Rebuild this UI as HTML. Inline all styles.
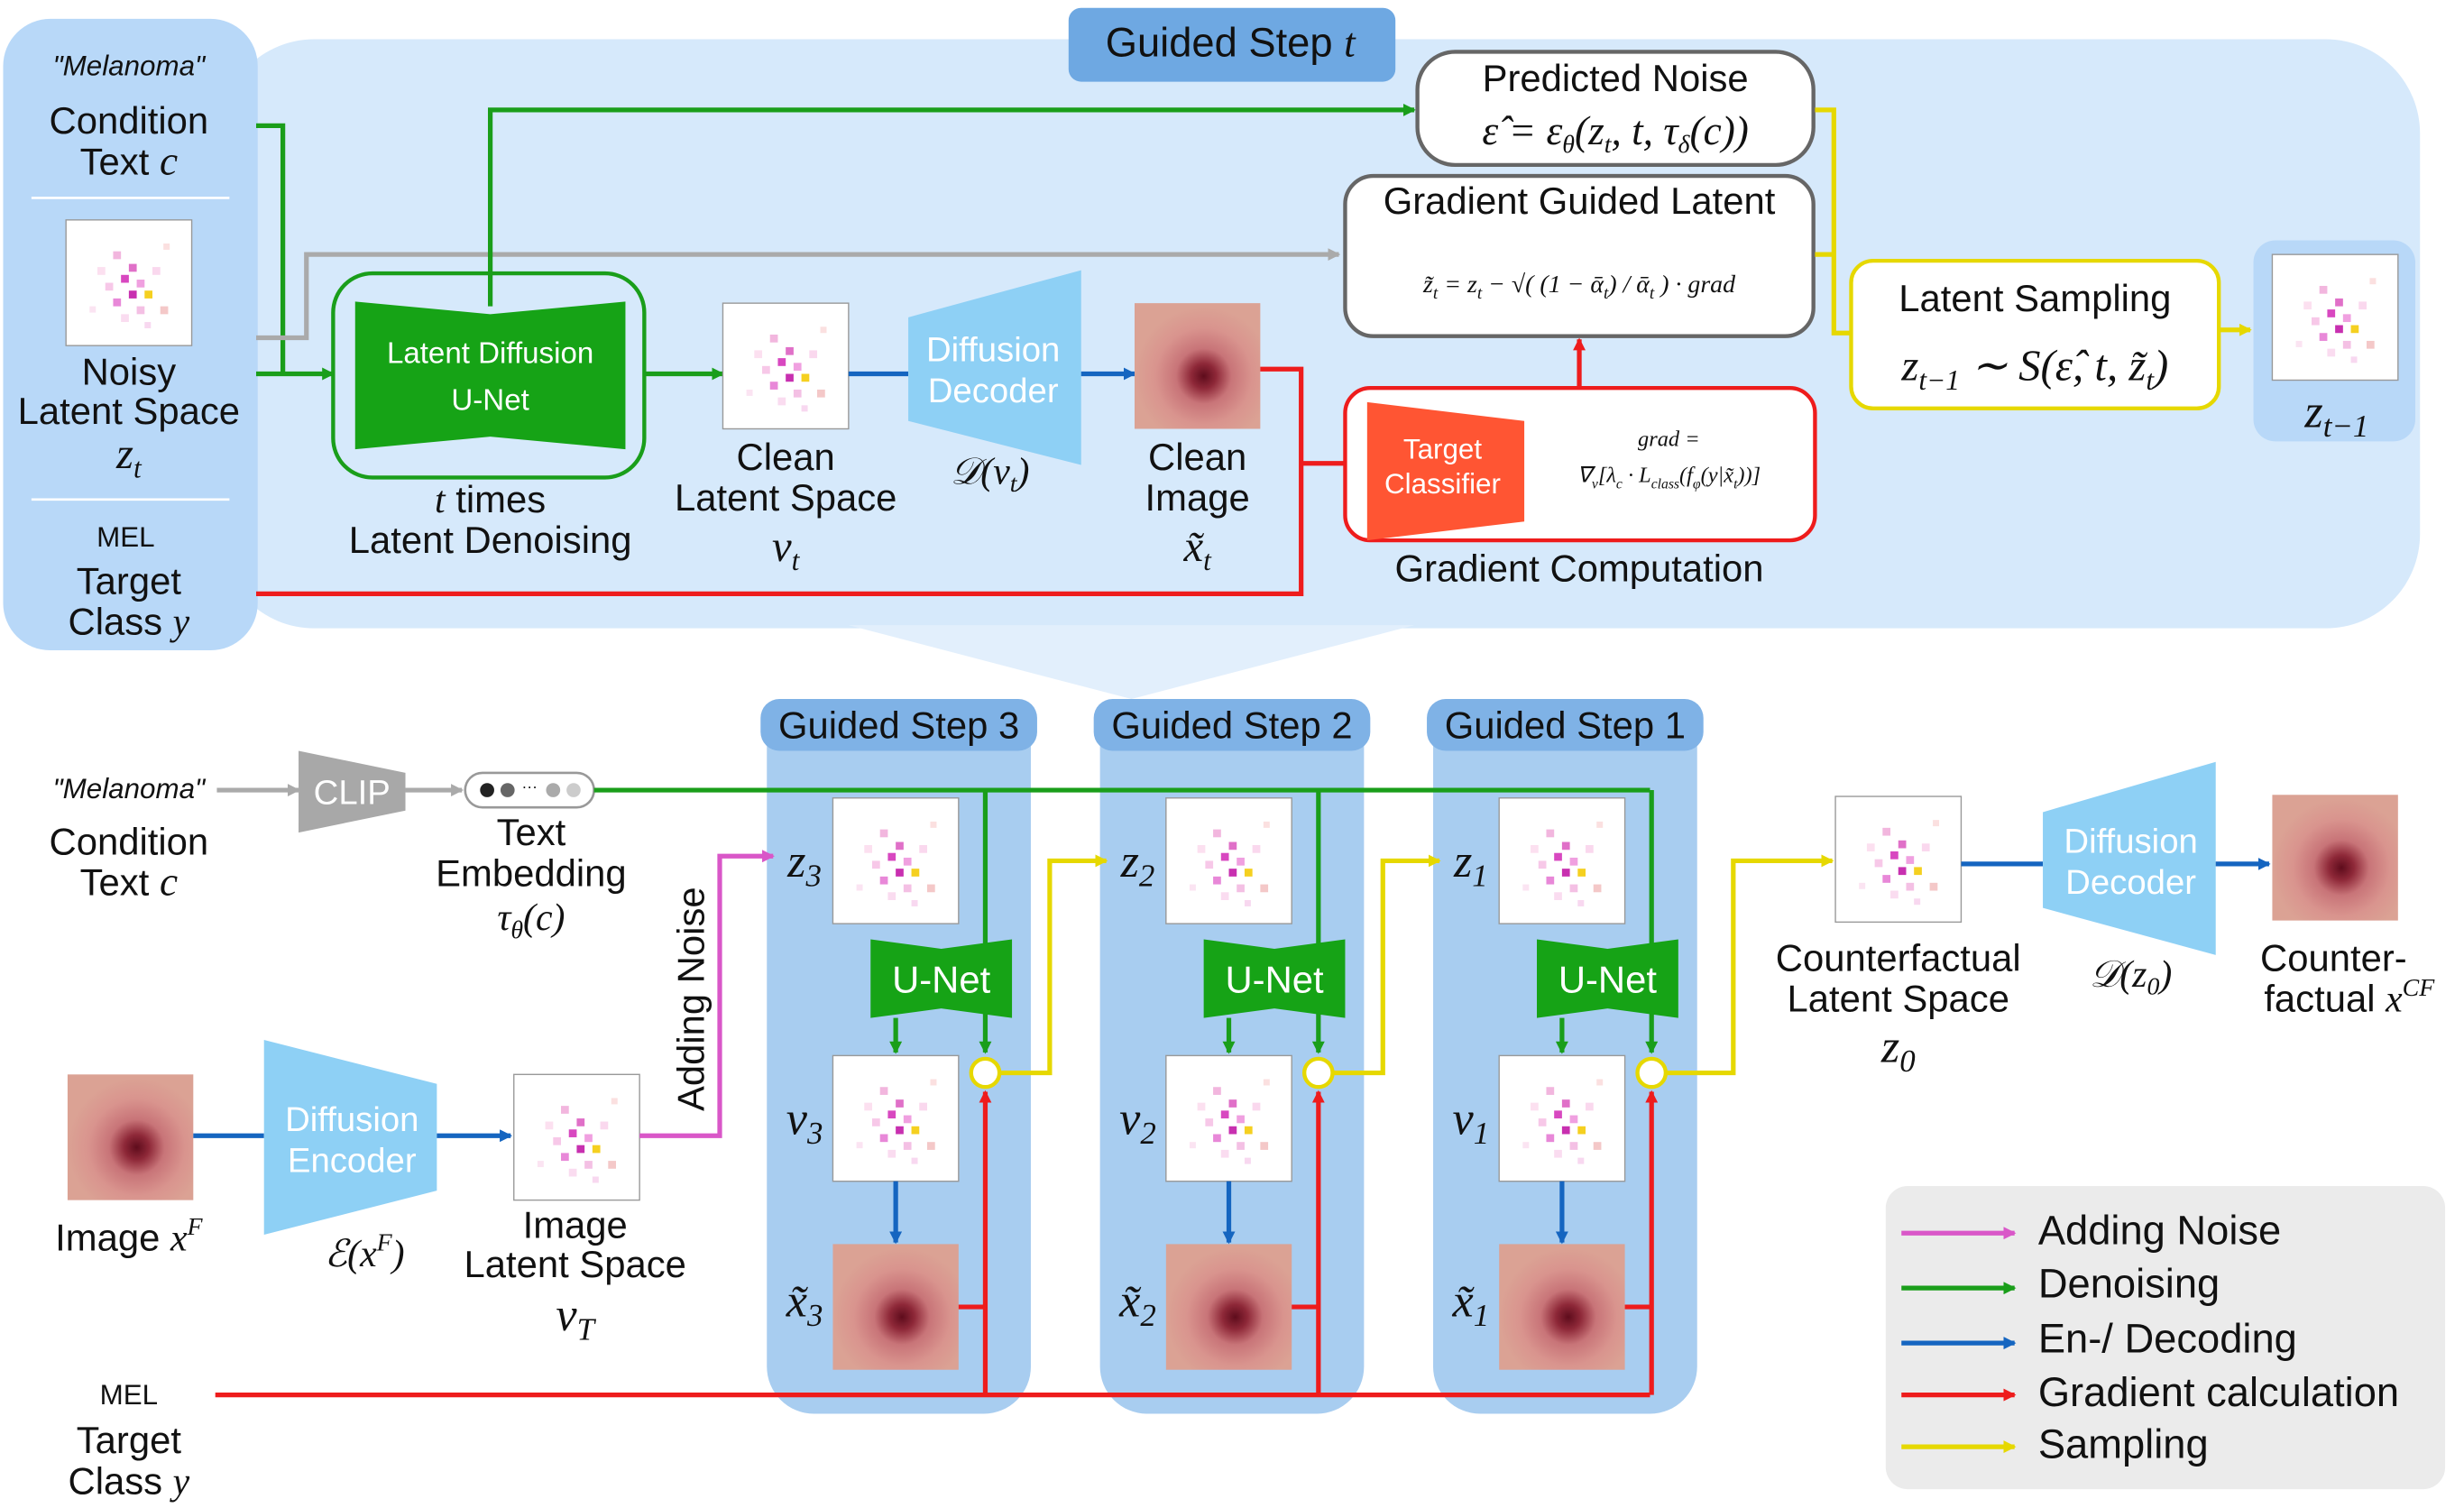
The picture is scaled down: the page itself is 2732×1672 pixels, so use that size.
<!DOCTYPE html>
<html><head><meta charset="utf-8"><style>
html,body{margin:0;padding:0;background:#fff}
svg{display:block}
text{font-family:"Liberation Sans",sans-serif;fill:#111;text-anchor:middle}
.m{font-family:"Liberation Serif",serif;font-style:italic}
</style></head><body>
<svg width="2732" height="1672" viewBox="0 0 1568 960" preserveAspectRatio="none" xmlns="http://www.w3.org/2000/svg">
<defs>
<marker id="ag" markerWidth="8" markerHeight="8" refX="7" refY="4" orient="auto" markerUnits="userSpaceOnUse"><path d="M0,0 L8,4 L0,8z" fill="#1a9e1a"/></marker>
<marker id="ab" markerWidth="8" markerHeight="8" refX="7" refY="4" orient="auto" markerUnits="userSpaceOnUse"><path d="M0,0 L8,4 L0,8z" fill="#1565c0"/></marker>
<marker id="ar" markerWidth="8" markerHeight="8" refX="7" refY="4" orient="auto" markerUnits="userSpaceOnUse"><path d="M0,0 L8,4 L0,8z" fill="#ee1c1c"/></marker>
<marker id="ay" markerWidth="8" markerHeight="8" refX="7" refY="4" orient="auto" markerUnits="userSpaceOnUse"><path d="M0,0 L8,4 L0,8z" fill="#e6d800"/></marker>
<marker id="am" markerWidth="8" markerHeight="8" refX="7" refY="4" orient="auto" markerUnits="userSpaceOnUse"><path d="M0,0 L8,4 L0,8z" fill="#d957c8"/></marker>
<marker id="aa" markerWidth="8" markerHeight="8" refX="7" refY="4" orient="auto" markerUnits="userSpaceOnUse"><path d="M0,0 L8,4 L0,8z" fill="#aaa"/></marker>
<radialGradient id="les" cx="0.55" cy="0.58" r="0.55">
<stop offset="0" stop-color="#5e0c1c"/><stop offset="0.18" stop-color="#8e2838"/><stop offset="0.4" stop-color="#c87478"/><stop offset="0.7" stop-color="#d9948e"/><stop offset="1" stop-color="#dba294"/></radialGradient>
<g id="noise"><rect width="80" height="80" fill="#fff" stroke="#999" stroke-width="0.8"/>
<rect x="30" y="20" width="5" height="5" fill="#f2b6de"/><rect x="40" y="28" width="5" height="5" fill="#e070c8"/><rect x="35" y="35" width="5" height="5" fill="#d848c0"/><rect x="45" y="38" width="5" height="5" fill="#f0a0e0"/><rect x="25" y="40" width="5" height="5" fill="#f7c8e8"/><rect x="40" y="45" width="5" height="5" fill="#c830b0"/><rect x="50" y="45" width="5" height="5" fill="#f5d020"/><rect x="30" y="50" width="5" height="5" fill="#e888d8"/><rect x="45" y="55" width="5" height="5" fill="#f4c0e4"/><rect x="55" y="30" width="5" height="5" fill="#fad8ee"/><rect x="20" y="30" width="5" height="5" fill="#fce0f0"/><rect x="60" y="55" width="5" height="5" fill="#f4c8c8"/><rect x="35" y="60" width="5" height="5" fill="#fadcf0"/><rect x="15" y="55" width="4" height="4" fill="#fbe4f2"/><rect x="62" y="15" width="4" height="4" fill="#fbe0e0"/><rect x="50" y="65" width="4" height="4" fill="#f8d8f0"/></g>
<g id="lesion"><rect width="80" height="80" fill="url(#les)"/></g>
</defs>

<rect x="140" y="25" width="1400" height="375" rx="60" fill="#d6e9fb"/>
<polygon points="540,398 900,398 720,445" fill="#e2effc"/>
<rect x="2" y="12" width="162" height="402" rx="30" fill="#b8d8f8"/>
<line x1="20" y1="126" x2="146" y2="126" stroke="#fff" stroke-width="1.5"/>
<line x1="20" y1="318" x2="146" y2="318" stroke="#fff" stroke-width="1.5"/>
<text x="82" y="48" font-size="18" font-style="italic">"Melanoma"</text>
<text x="82" y="85" font-size="24">Condition</text>
<text x="82" y="111" font-size="24">Text <tspan class="m" font-size="26">c</tspan></text>
<use href="#noise" x="42" y="140"/>
<text x="82" y="245" font-size="24">Noisy</text>
<text x="82" y="270" font-size="24">Latent Space</text>
<text x="82" y="298" class="m" font-size="28">z<tspan font-size="18" dy="6">t</tspan></text>
<text x="80" y="348" font-size="18">MEL</text>
<text x="82" y="378" font-size="24">Target</text>
<text x="82" y="404" font-size="24">Class <tspan class="m">y</tspan></text>

<rect x="680" y="5" width="208" height="47" rx="8" fill="#6ea8e2"/>
<text x="783" y="36" font-size="26">Guided Step <tspan class="m">t</tspan></text>

<polyline points="163,80 180,80 180,238" fill="none" stroke="#1a9e1a" stroke-width="3"/>
<line x1="163" y1="238" x2="212" y2="238" stroke="#1a9e1a" stroke-width="3" marker-end="url(#ag)"/>
<polyline points="163,215 195,215 195,162 852,162" fill="none" stroke="#aaa" stroke-width="3" marker-end="url(#aa)"/>
<polyline points="312,195 312,70 900,70" fill="none" stroke="#1a9e1a" stroke-width="3" marker-end="url(#ag)"/>

<rect x="212" y="174" width="198" height="130" rx="25" fill="none" stroke="#1a9e1a" stroke-width="2.5"/>
<polygon points="226,192 312,200 398,192 398,286 312,278 226,286" fill="#16a316"/>
<text x="312" y="231" font-size="19" style="fill:#fff">Latent Diffusion</text>
<text x="312" y="261" font-size="19" style="fill:#fff">U-Net</text>
<text x="312" y="326" font-size="24"><tspan class="m">t</tspan> times</text>
<text x="312" y="352" font-size="24">Latent Denoising</text>

<line x1="410" y1="238" x2="460" y2="238" stroke="#1a9e1a" stroke-width="3" marker-end="url(#ag)"/>
<use href="#noise" x="460" y="193"/>
<text x="500" y="299" font-size="24">Clean</text>
<text x="500" y="325" font-size="24">Latent Space</text>
<text x="500" y="357" class="m" font-size="28">v<tspan font-size="18" dy="6">t</tspan></text>

<line x1="540" y1="238" x2="578" y2="238" stroke="#1565c0" stroke-width="3"/>
<polygon points="578,202 688,172 688,296 578,268" fill="#8ed0f5"/>
<text x="632" y="230" font-size="22" style="fill:#fff">Diffusion</text>
<text x="632" y="256" font-size="22" style="fill:#fff">Decoder</text>
<text x="630" y="308" class="m" font-size="24">𝒟(v<tspan font-size="16" dy="5">t</tspan><tspan dy="-5">)</tspan></text>
<line x1="688" y1="238" x2="722" y2="238" stroke="#1565c0" stroke-width="3" marker-end="url(#ab)"/>
<use href="#lesion" x="722" y="193"/>
<text x="762" y="299" font-size="24">Clean</text>
<text x="762" y="325" font-size="24">Image</text>
<text x="762" y="357" class="m" font-size="28">x̃<tspan font-size="18" dy="6">t</tspan></text>

<polyline points="802,235 828,235 828,378 163,378" fill="none" stroke="#ee1c1c" stroke-width="3"/>
<line x1="828" y1="295" x2="856" y2="295" stroke="#ee1c1c" stroke-width="3"/>
<rect x="856" y="247" width="299" height="97" rx="16" fill="#fff" stroke="#ee1c1c" stroke-width="2.5"/>
<polygon points="870,256 970,268 970,332 870,344" fill="#ff5533"/>
<text x="918" y="292" font-size="18" style="fill:#fff">Target</text>
<text x="918" y="314" font-size="18" style="fill:#fff">Classifier</text>
<text x="1062" y="284" class="m" font-size="14">grad =</text>
<text x="1062" y="307" class="m" font-size="14">∇<tspan font-size="9" dy="4">v</tspan><tspan dy="-4">[λ</tspan><tspan font-size="9" dy="4">c</tspan><tspan dy="-4"> · L</tspan><tspan font-size="9" dy="4">class</tspan><tspan dy="-4">(f</tspan><tspan font-size="9" dy="4">φ</tspan><tspan dy="-4">(y|x̃</tspan><tspan font-size="9" dy="4">t</tspan><tspan dy="-4">))]</tspan></text>
<text x="1005" y="370" font-size="24">Gradient Computation</text>
<line x1="1005" y1="247" x2="1005" y2="216" stroke="#ee1c1c" stroke-width="3" marker-end="url(#ar)"/>

<rect x="856" y="112" width="298" height="102" rx="18" fill="#fff" stroke="#666" stroke-width="2.5"/>
<text x="1005" y="136" font-size="24">Gradient Guided Latent</text>
<text x="1005" y="186" class="m" font-size="16">z̃<tspan font-size="11" dy="4">t</tspan><tspan dy="-4"> = z</tspan><tspan font-size="11" dy="4">t</tspan><tspan dy="-4"> − √( (1 − ᾱ</tspan><tspan font-size="11" dy="4">t</tspan><tspan dy="-4">) / ᾱ</tspan><tspan font-size="11" dy="4">t</tspan><tspan dy="-4"> ) · grad</tspan></text>

<rect x="902" y="33" width="252" height="72" rx="24" fill="#fff" stroke="#666" stroke-width="2.5"/>
<text x="1028" y="58" font-size="24">Predicted Noise</text>
<text x="1028" y="92" class="m" font-size="26">ε̂ = ε<tspan font-size="16" dy="5">θ</tspan><tspan dy="-5">(z</tspan><tspan font-size="16" dy="5">t</tspan><tspan dy="-5">, t, τ</tspan><tspan font-size="16" dy="5">δ</tspan><tspan dy="-5">(c))</tspan></text>

<polyline points="1155,70 1167,70 1167,212 1178,212" fill="none" stroke="#e6d800" stroke-width="3"/>
<line x1="1155" y1="162" x2="1167" y2="162" stroke="#e6d800" stroke-width="3"/>
<rect x="1178" y="166" width="234" height="94" rx="14" fill="#fff" stroke="#e6d800" stroke-width="2.5"/>
<text x="1295" y="198" font-size="24">Latent Sampling</text>
<text x="1295" y="242" class="m" font-size="28">z<tspan font-size="18" dy="6">t−1</tspan><tspan dy="-6"> ∼ S(ε̂, t, z̃</tspan><tspan font-size="18" dy="6">t</tspan><tspan dy="-6">)</tspan></text>
<line x1="1412" y1="210" x2="1432" y2="210" stroke="#e6d800" stroke-width="3" marker-end="url(#ay)"/>
<rect x="1434" y="153" width="103" height="128" rx="14" fill="#b8d8f8"/>
<use href="#noise" x="1446" y="162"/>
<text x="1487" y="272" class="m" font-size="30">z<tspan font-size="20" dy="6">t−1</tspan></text>

<g id="col">
<rect x="488" y="445" width="168" height="455" rx="30" fill="#a8cdf0"/>
<rect x="484" y="445" width="176" height="33" rx="12" fill="#7fb2e6"/>
</g>
<use href="#col" x="212"/>
<use href="#col" x="424"/>
<text x="572" y="470" font-size="24">Guided Step 3</text>
<text x="784" y="470" font-size="24">Guided Step 2</text>
<text x="996" y="470" font-size="24">Guided Step 1</text>

<text x="82" y="508" font-size="18" font-style="italic">"Melanoma"</text>
<text x="82" y="544" font-size="24">Condition</text>
<text x="82" y="570" font-size="24">Text <tspan class="m" font-size="26">c</tspan></text>
<line x1="138" y1="503" x2="190" y2="503" stroke="#aaa" stroke-width="3" marker-end="url(#aa)"/>
<polygon points="190,478 258,492 258,516 190,530" fill="#a8a8a8"/>
<text x="224" y="512" font-size="22" style="fill:#fff">CLIP</text>
<line x1="258" y1="503" x2="294" y2="503" stroke="#aaa" stroke-width="3" marker-end="url(#aa)"/>
<rect x="296" y="492" width="82" height="22" rx="11" fill="#fff" stroke="#999" stroke-width="1.5"/>
<circle cx="310" cy="503" r="4.5" fill="#222"/><circle cx="323" cy="503" r="4.5" fill="#666"/><text x="337" y="504" font-size="10">···</text><circle cx="352" cy="503" r="4.5" fill="#aaa"/><circle cx="365" cy="503" r="4.5" fill="#ccc"/>
<text x="338" y="538" font-size="24">Text</text>
<text x="338" y="564" font-size="24">Embedding</text>
<text x="338" y="592" class="m" font-size="24">τ<tspan font-size="16" dy="5">θ</tspan><tspan dy="-5">(c)</tspan></text>

<line x1="378" y1="503" x2="1050" y2="503" stroke="#1a9e1a" stroke-width="3"/>

<g id="step">
<use href="#noise" x="530" y="508"/>
<use href="#noise" x="530" y="672"/>
<use href="#lesion" x="530" y="792"/>
<line x1="627" y1="503" x2="627" y2="670" stroke="#1a9e1a" stroke-width="3" marker-end="url(#ag)"/>
<polygon points="554,598 599,604 644,598 644,648 599,642 554,648" fill="#16a316"/>
<line x1="570" y1="648" x2="570" y2="670" stroke="#1a9e1a" stroke-width="3" marker-end="url(#ag)"/>
<line x1="570" y1="752" x2="570" y2="791" stroke="#1565c0" stroke-width="3" marker-end="url(#ab)"/>
<polyline points="610,832 627,832" fill="none" stroke="#ee1c1c" stroke-width="3"/>
<line x1="627" y1="888" x2="627" y2="695" stroke="#ee1c1c" stroke-width="3" marker-end="url(#ar)"/>
</g>
<use href="#step" x="212"/>
<use href="#step" x="424"/>
<polyline points="637,683 668,683 668,548 704,548" fill="none" stroke="#e6d800" stroke-width="3" marker-end="url(#ay)"/>
<polyline points="849,683 880,683 880,548 916,548" fill="none" stroke="#e6d800" stroke-width="3" marker-end="url(#ay)"/>
<polyline points="1061,683 1103,683 1103,548 1166,548" fill="none" stroke="#e6d800" stroke-width="3" marker-end="url(#ay)"/>
<circle cx="627" cy="683" r="9" fill="#fff" stroke="#e6d800" stroke-width="2.5"/>
<circle cx="839" cy="683" r="9" fill="#fff" stroke="#e6d800" stroke-width="2.5"/>
<circle cx="1051" cy="683" r="9" fill="#fff" stroke="#e6d800" stroke-width="2.5"/>
<text x="599" y="632" font-size="24" style="fill:#fff">U-Net</text>
<text x="811" y="632" font-size="24" style="fill:#fff">U-Net</text>
<text x="1023" y="632" font-size="24" style="fill:#fff">U-Net</text>

<text x="512" y="558" class="m" font-size="30">z<tspan font-size="20" dy="6">3</tspan></text>
<text x="512" y="722" class="m" font-size="30">v<tspan font-size="20" dy="6">3</tspan></text>
<text x="512" y="838" class="m" font-size="30">x̃<tspan font-size="20" dy="6">3</tspan></text>
<text x="724" y="558" class="m" font-size="30">z<tspan font-size="20" dy="6">2</tspan></text>
<text x="724" y="722" class="m" font-size="30">v<tspan font-size="20" dy="6">2</tspan></text>
<text x="724" y="838" class="m" font-size="30">x̃<tspan font-size="20" dy="6">2</tspan></text>
<text x="936" y="558" class="m" font-size="30">z<tspan font-size="20" dy="6">1</tspan></text>
<text x="936" y="722" class="m" font-size="30">v<tspan font-size="20" dy="6">1</tspan></text>
<text x="936" y="838" class="m" font-size="30">x̃<tspan font-size="20" dy="6">1</tspan></text>

<line x1="137" y1="888" x2="1050" y2="888" stroke="#ee1c1c" stroke-width="3"/>
<text x="82" y="894" font-size="18">MEL</text>
<text x="82" y="925" font-size="24">Target</text>
<text x="82" y="951" font-size="24">Class <tspan class="m">y</tspan></text>

<use href="#lesion" x="43" y="684"/>
<text x="82" y="796" font-size="24">Image <tspan class="m">x<tspan font-size="16" dy="-10">F</tspan></tspan></text>
<line x1="123" y1="723" x2="168" y2="723" stroke="#1565c0" stroke-width="3"/>
<polygon points="168,662 278,690 278,758 168,786" fill="#8ed0f5"/>
<text x="224" y="720" font-size="22" style="fill:#fff">Diffusion</text>
<text x="224" y="746" font-size="22" style="fill:#fff">Encoder</text>
<text x="232" y="806" class="m" font-size="24">ℰ(x<tspan font-size="16" dy="-10">F</tspan><tspan dy="10">)</tspan></text>
<line x1="278" y1="723" x2="325" y2="723" stroke="#1565c0" stroke-width="3" marker-end="url(#ab)"/>
<use href="#noise" x="327" y="684"/>
<text x="366" y="788" font-size="24">Image</text>
<text x="366" y="813" font-size="24">Latent Space</text>
<text x="366" y="847" class="m" font-size="30">v<tspan font-size="20" dy="6">T</tspan></text>
<polyline points="407,723 458,723 458,545 492,545" fill="none" stroke="#d957c8" stroke-width="3" marker-end="url(#am)"/>
<text x="0" y="0" font-size="24" transform="translate(448,636) rotate(-90)">Adding Noise</text>

<use href="#noise" x="1168" y="507"/>
<text x="1208" y="618" font-size="24">Counterfactual</text>
<text x="1208" y="644" font-size="24">Latent Space</text>
<text x="1208" y="676" class="m" font-size="30">z<tspan font-size="20" dy="6">0</tspan></text>
<line x1="1248" y1="550" x2="1300" y2="550" stroke="#1565c0" stroke-width="3"/>
<polygon points="1300,517 1410,485 1410,608 1300,578" fill="#8ed0f5"/>
<text x="1356" y="543" font-size="22" style="fill:#fff">Diffusion</text>
<text x="1356" y="569" font-size="22" style="fill:#fff">Decoder</text>
<text x="1356" y="628" class="m" font-size="24">𝒟(z<tspan font-size="16" dy="5">0</tspan><tspan dy="-5">)</tspan></text>
<line x1="1410" y1="550" x2="1444" y2="550" stroke="#1565c0" stroke-width="3" marker-end="url(#ab)"/>
<use href="#lesion" x="1446" y="506"/>
<text x="1485" y="618" font-size="24">Counter-</text>
<text x="1495" y="644" font-size="24">factual <tspan class="m">x<tspan font-size="16" dy="-10">CF</tspan></tspan></text>

<rect x="1200" y="755" width="356" height="193" rx="14" fill="#ebebeb"/>
<line x1="1210" y1="785" x2="1282" y2="785" stroke="#d957c8" stroke-width="3" marker-end="url(#am)"/>
<line x1="1210" y1="820" x2="1282" y2="820" stroke="#1a9e1a" stroke-width="3" marker-end="url(#ag)"/>
<line x1="1210" y1="855" x2="1282" y2="855" stroke="#1565c0" stroke-width="3" marker-end="url(#ab)"/>
<line x1="1210" y1="888" x2="1282" y2="888" stroke="#ee1c1c" stroke-width="3" marker-end="url(#ar)"/>
<line x1="1210" y1="921" x2="1282" y2="921" stroke="#e6d800" stroke-width="3" marker-end="url(#ay)"/>
<text x="1297" y="792" font-size="26" style="text-anchor:start">Adding Noise</text>
<text x="1297" y="826" font-size="26" style="text-anchor:start">Denoising</text>
<text x="1297" y="861" font-size="26" style="text-anchor:start">En-/ Decoding</text>
<text x="1297" y="895" font-size="26" style="text-anchor:start">Gradient calculation</text>
<text x="1297" y="928" font-size="26" style="text-anchor:start">Sampling</text>
</svg>
</body></html>
